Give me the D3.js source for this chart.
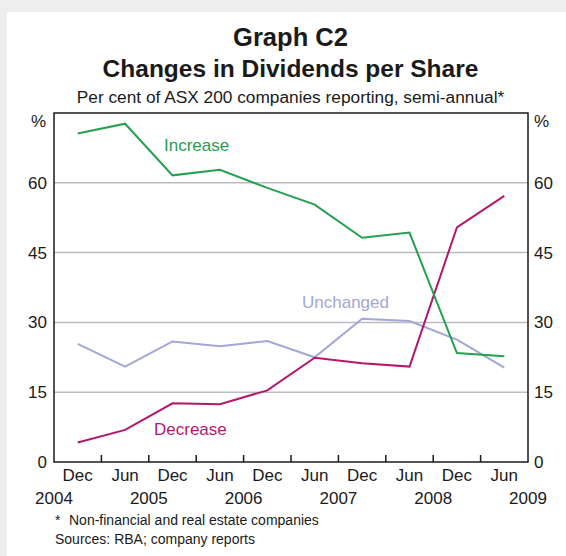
<!DOCTYPE html>
<html>
<head>
<meta charset="utf-8">
<script src="https://cdn.jsdelivr.net/npm/d3@7"></script>
<style>
	body { margin: 0; background: #eeeeee; }
	svg { display: block; font-family: 'Liberation Sans', Arial, sans-serif; }
	.grid line { stroke: #b9bdc0; stroke-width: 1.5; }
	.frame { fill: none; stroke: #1a1a1a; stroke-width: 1.5; }
	.series { fill: none; stroke-width: 2; stroke-linejoin: miter; }
</style>
</head>
<body>
<div id="chart"></div>
<script>
	var months = ['Dec', 'Jun', 'Dec', 'Jun', 'Dec', 'Jun', 'Dec', 'Jun', 'Dec', 'Jun'];
	var years = ['2004', '2005', '2006', '2007', '2008', '2009'];
	var periods = ['2004-12', '2005-06', '2005-12', '2006-06', '2006-12', '2007-06', '2007-12', '2008-06', '2008-12', '2009-06'];
	var yTicks = [0, 15, 30, 45, 60];

	var increase = [70.6, 72.7, 61.6, 62.8, 58.9, 55.3, 48.2, 49.3, 23.4, 22.7];
	var decrease = [4.2, 6.9, 12.6, 12.4, 15.4, 22.4, 21.2, 20.5, 50.4, 57.2];
	var unchanged = [25.4, 20.5, 25.9, 24.9, 26.0, 22.5, 30.8, 30.3, 26.3, 20.3];

	var fullWidth = 566;
	var fullHeight = 556;
	var margin = { top: 113, right: 38, bottom: 94, left: 54 };
	var width = fullWidth - margin.left - margin.right;
	var height = fullHeight - margin.top - margin.bottom;

	var svg = d3.select('#chart')
		.append('svg')
		.attr('width', fullWidth)
		.attr('height', fullHeight);

	// white panel
	svg.append('rect')
		.attr('x', 7)
		.attr('y', 12)
		.attr('width', fullWidth - 7)
		.attr('height', fullHeight - 12)
		.attr('fill', '#ffffff');

	svg.append('text')
		.attr('x', 290.5)
		.attr('y', 46)
		.attr('text-anchor', 'middle')
		.attr('font-size', 25.5)
		.attr('font-weight', 'bold')
		.attr('fill', '#1a1a1a')
		.text('Graph C2');

	svg.append('text')
		.attr('x', 290.5)
		.attr('y', 77)
		.attr('text-anchor', 'middle')
		.attr('font-size', 24.5)
		.attr('font-weight', 'bold')
		.attr('fill', '#1a1a1a')
		.text('Changes in Dividends per Share');

	svg.append('text')
		.attr('x', 290.5)
		.attr('y', 103)
		.attr('text-anchor', 'middle')
		.attr('font-size', 17.3)
		.attr('fill', '#1a1a1a')
		.text('Per cent of ASX 200 companies reporting, semi-annual*');

	var x = d3.scaleBand()
		.domain(periods)
		.range([0, width]);

	var y = d3.scaleLinear()
		.domain([0, 75])
		.range([height, 0]);

	var cx = function(d, i) { return x(periods[i]) + x.bandwidth() / 2; };

	var chartArea = svg.append('g')
		.attr('transform', 'translate(' + margin.left + ',' + margin.top + ')');

	//grid lines
	chartArea.append('g')
		.attr('class', 'grid')
		.selectAll('line')
		.data(yTicks.filter(function(d) { return d > 0; }))
		.enter()
		.append('line')
		.attr('x1', 0)
		.attr('x2', width)
		.attr('y1', function(d) { return y(d); })
		.attr('y2', function(d) { return y(d); });

	var yAxisLeft = d3.axisLeft(y).tickValues(yTicks).tickSize(0).tickPadding(7);
	var yAxisRight = d3.axisRight(y).tickValues(yTicks).tickSize(0).tickPadding(6);

	chartArea.append('g')
		.attr('class', 'y axis')
		.call(yAxisLeft)
		.call(function(g) { g.select('.domain').remove(); })
		.selectAll('text')
		.attr('font-size', 17)
		.attr('fill', '#1a1a1a');

	chartArea.append('g')
		.attr('class', 'y axis')
		.attr('transform', 'translate(' + width + ',0)')
		.call(yAxisRight)
		.call(function(g) { g.select('.domain').remove(); })
		.selectAll('text')
		.attr('font-size', 17)
		.attr('fill', '#1a1a1a');

	svg.selectAll('.y.axis').attr('font-family', null);

	chartArea.append('text')
		.attr('x', -8)
		.attr('y', 14)
		.attr('text-anchor', 'end')
		.attr('font-size', 17)
		.attr('fill', '#1a1a1a')
		.text('%');

	chartArea.append('text')
		.attr('x', width + 6)
		.attr('y', 14)
		.attr('font-size', 17)
		.attr('fill', '#1a1a1a')
		.text('%');

	//x ticks at period boundaries
	chartArea.append('g')
		.selectAll('line')
		.data(periods.slice(1))
		.enter()
		.append('line')
		.attr('x1', function(d) { return x(d); })
		.attr('x2', function(d) { return x(d); })
		.attr('y1', height)
		.attr('y2', height - 7)
		.attr('stroke', '#1a1a1a')
		.attr('stroke-width', 1.5);

	chartArea.append('g')
		.selectAll('text')
		.data(months)
		.enter()
		.append('text')
		.attr('x', cx)
		.attr('y', height + 19)
		.attr('text-anchor', 'middle')
		.attr('font-size', 17)
		.attr('fill', '#1a1a1a')
		.text(function(d) { return d; });

	chartArea.append('g')
		.selectAll('text')
		.data(years)
		.enter()
		.append('text')
		.attr('x', function(d, i) { return i * 2 * x.bandwidth(); })
		.attr('y', height + 42)
		.attr('text-anchor', 'middle')
		.attr('font-size', 17)
		.attr('fill', '#1a1a1a')
		.text(function(d) { return d; });

	var seriesLine = d3.line()
		.x(cx)
		.y(function(d) { return y(d); });

	var series = [
		{ values: unchanged, color: '#a3a7d5', label: 'Unchanged', lx: 248, ly: 195 },
		{ values: decrease, color: '#b3186d', label: 'Decrease', lx: 100, ly: 322 },
		{ values: increase, color: '#24a14f', label: 'Increase', lx: 110, ly: 38 }
	];

	chartArea.selectAll('.series')
		.data(series)
		.enter()
		.append('path')
		.attr('class', 'series')
		.attr('stroke', function(d) { return d.color; })
		.attr('d', function(d) { return seriesLine(d.values); });

	chartArea.selectAll('.series-label')
		.data(series)
		.enter()
		.append('text')
		.attr('class', 'series-label')
		.attr('x', function(d) { return d.lx; })
		.attr('y', function(d) { return d.ly; })
		.attr('font-size', 17)
		.attr('fill', function(d) { return d.color; })
		.text(function(d) { return d.label; });

	chartArea.append('rect')
		.attr('class', 'frame')
		.attr('width', width)
		.attr('height', height);

	//footnotes
	svg.append('text')
		.attr('x', 55)
		.attr('y', 525)
		.attr('font-size', 14)
		.attr('fill', '#1a1a1a')
		.text('*');

	svg.append('text')
		.attr('x', 69)
		.attr('y', 525)
		.attr('font-size', 14)
		.attr('fill', '#1a1a1a')
		.text('Non-financial and real estate companies');

	svg.append('text')
		.attr('x', 55)
		.attr('y', 544)
		.attr('font-size', 14)
		.attr('fill', '#1a1a1a')
		.text('Sources: RBA; company reports');
</script>
</body>
</html>
